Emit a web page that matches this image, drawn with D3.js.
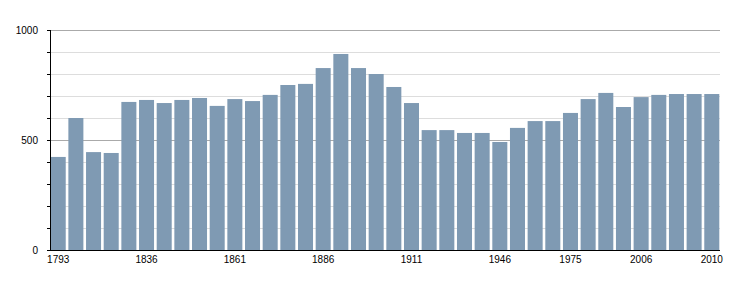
<!DOCTYPE html>
<html>
<head>
<meta charset="utf-8">
<script src="https://cdn.jsdelivr.net/npm/d3@7"></script>
<style>
  body { margin: 0; background: #fff; }
  text { font-family: "Liberation Sans", Arial, sans-serif; }
</style>
</head>
<body>
<div id="chart"></div>
<script>
// census years and population
var years = [1793, 1800, 1806, 1821, 1831, 1836, 1841, 1846, 1851, 1856,
    1861, 1866, 1872, 1876, 1881, 1886, 1891, 1896, 1901, 1906,
    1911, 1921, 1926, 1931, 1936, 1946, 1954, 1962, 1968, 1975,
    1982, 1990, 1999, 2006, 2007, 2008, 2009, 2010];
var population = [423, 600, 445, 441, 673, 682, 668, 682, 691, 655,
    686, 677, 705, 750, 755, 827, 891, 827, 800, 741,
    668, 545, 545, 532, 532, 491, 555, 586, 586, 623,
    686, 714, 650, 695, 705, 709, 709, 709];
var xLabels = [1793, 1836, 1861, 1886, 1911, 1946, 1975, 2006, 2010];
var yLabels = [0, 500, 1000];
var yMinor = [0, 100, 200, 300, 400, 500, 600, 700, 800, 900, 1000];

var margin = {top: 30, right: 30, bottom: 50, left: 50};
var width = 750 - margin.left - margin.right;
var height = 300 - margin.top - margin.bottom;

var svg = d3.select("#chart")
    .append("svg")
    .attr("width", 750)
    .attr("height", 300);

var inner = svg.append("g")
    .attr("transform", "translate(" + margin.left + "," + margin.top + ")");

const x = d3.scaleBand()
    .domain(years)
    .range([0, width])
    .paddingInner(0.15)
    .paddingOuter(0.04);

const y = d3.scaleLinear()
    .domain([0, 1000])
    .range([height, 0]);

// grid lines
inner.append("g").selectAll("line")
    .data(yMinor.filter(function (d) { return d > 0; }))
    .enter()
    .append("line")
    .attr("x1", 0)
    .attr("x2", width)
    .attr("y1", function (d) { return y(d) + 0.5; })
    .attr("y2", function (d) { return y(d) + 0.5; })
    .attr("stroke", function (d) { return d % 500 === 0 ? "#aaaaaa" : "#dddddd"; })
    .attr("stroke-width", 1);

// bars
inner.append("g").selectAll("rect")
    .data(years)
    .enter()
    .append("rect")
    .attr("x", function (d) { return x(d); })
    .attr("width", x.bandwidth())
    .attr("y", function (d, i) { return y(population[i]); })
    .attr("height", function (d, i) { return height - y(population[i]); })
    .attr("fill", "#7f9ab3");

// y axis: minor ticks, labels on 0/500/1000
inner.append("g")
    .call(d3.axisLeft(y).tickValues(yMinor).tickSize(3).tickFormat(function (d) {
        return yLabels.indexOf(d) >= 0 ? d : "";
    }))
    .call(function (g) {
        g.select(".domain").remove();
        g.selectAll("line").attr("stroke", "#000");
        g.selectAll("text").attr("font-size", 10).attr("fill", "#000")
            .attr("font-family", "Liberation Sans, Arial, sans-serif")
            .attr("x", -12);
    });

inner.append("line")
    .attr("x1", 0.5).attr("x2", 0.5)
    .attr("y1", 0).attr("y2", height)
    .attr("stroke", "#000");

// x axis
inner.append("g")
    .attr("transform", "translate(0," + height + ")")
    .call(d3.axisBottom(x).tickValues(xLabels).tickSize(0).tickPadding(6))
    .call(function (g) {
        g.select(".domain").remove();
        g.selectAll("text").attr("font-size", 10).attr("fill", "#000")
            .attr("font-family", "Liberation Sans, Arial, sans-serif");
    });

inner.append("line")
    .attr("x1", 0).attr("x2", width)
    .attr("y1", height + 0.5).attr("y2", height + 0.5)
    .attr("stroke", "#000");
</script>
</body>
</html>
